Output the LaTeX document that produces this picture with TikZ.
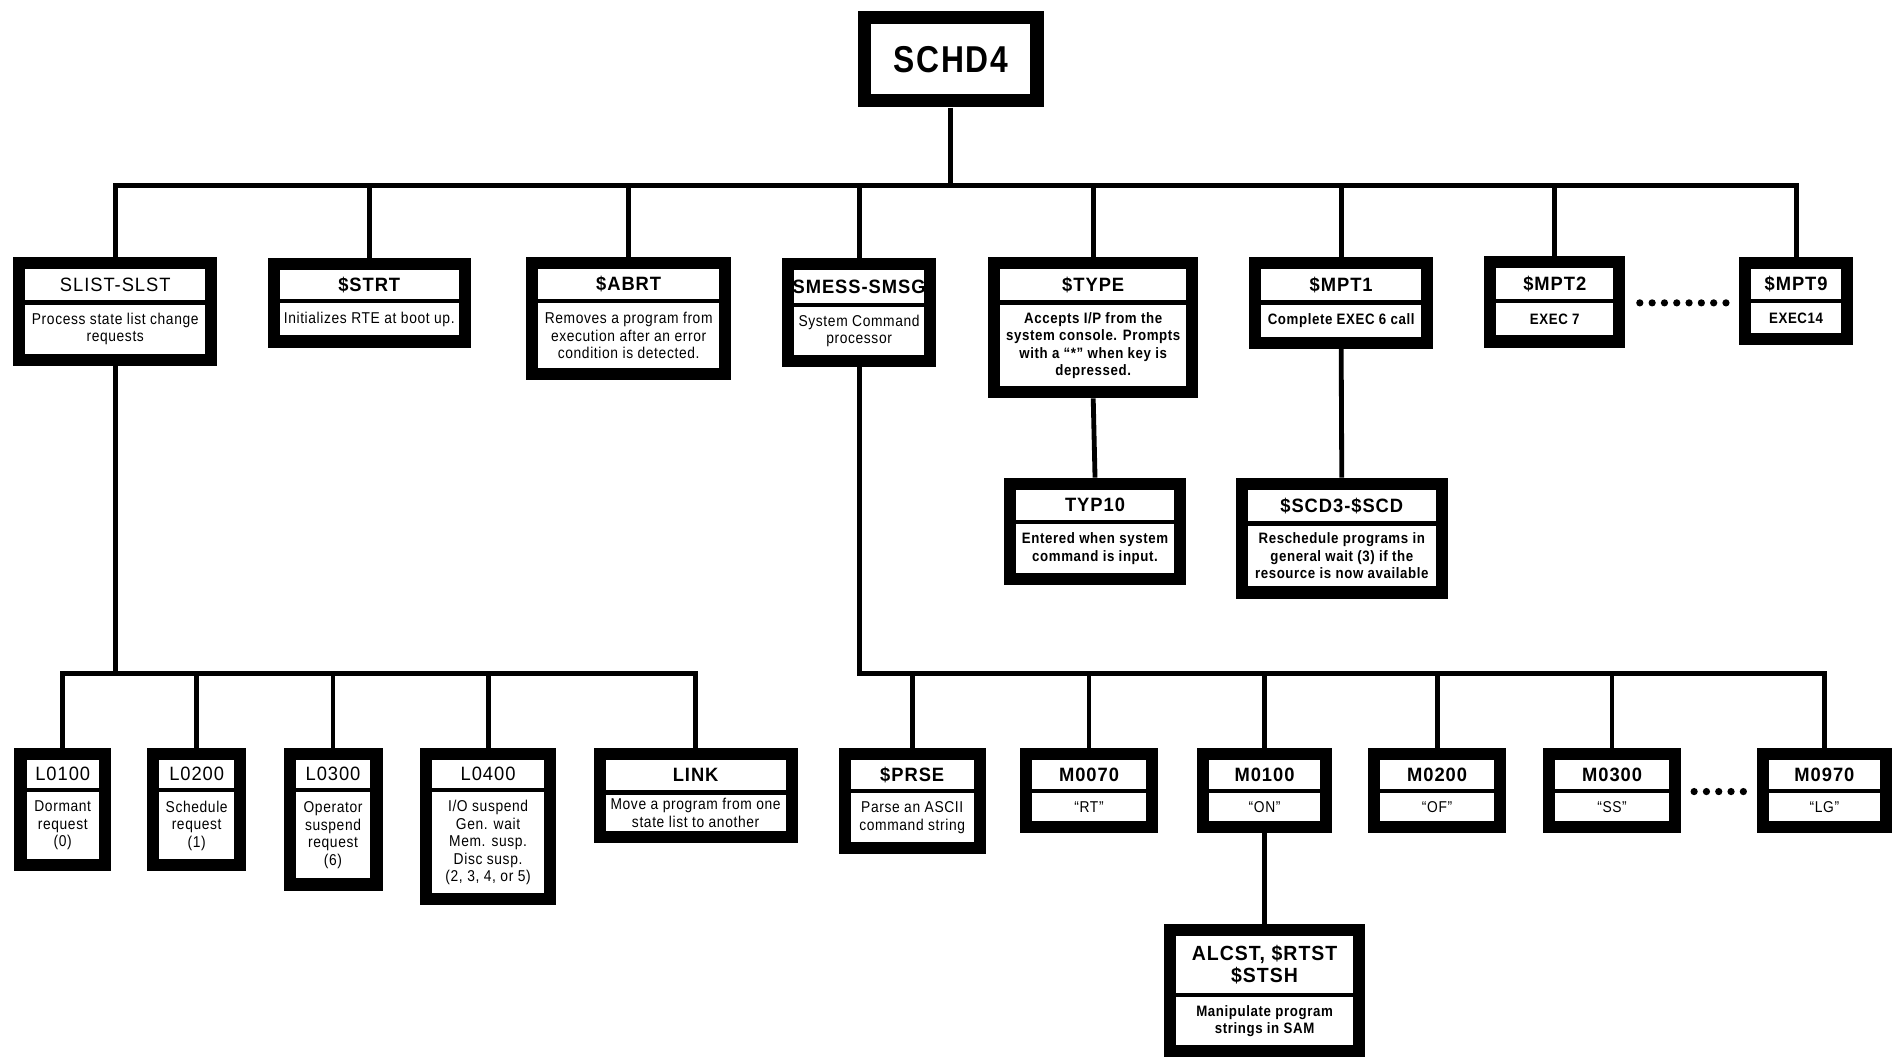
\documentclass[tikz,border=0pt]{standalone}
\usepackage{fontspec}
\usetikzlibrary{fit}
\newfontfamily\rootfont{Liberation Sans}[FakeStretch=0.85,LetterSpace=4]
\newfontfamily\ttlfont{Liberation Sans}[FakeStretch=0.95,LetterSpace=5]
\newfontfamily\dscfont{Liberation Sans}[FakeStretch=0.88,LetterSpace=4]

% frame width of a module box and gap between its title and description panels
\newcommand\bw{10}
\newcommand\gp{3.5}

\tikzset{
  tweight/.store in=\tw, tweight=\bfseries,
  dweight/.store in=\dw, dweight=\mdseries,
  tsize/.store in=\ts, tsize=16,
  dsize/.store in=\ds, dsize=13,
  bd/.style={dweight=\bfseries, dsize=12.5},
  boxframe/.style={fill=black, draw=none, inner sep=0pt},
  whitebox/.style={fill=white, draw=none, inner sep=0pt},
  titletext/.style={font=\ttlfont\tw\fontsize{\ts}{\ts}\selectfont, align=center, inner sep=0pt},
  desctext/.style={font=\dscfont\dw\fontsize{\ds}{14.5}\selectfont, align=center, inner sep=0pt},
  conn/.style={line width=4pt},
  dot/.style={fill=black},
}

% #1 name, #2 left, #3 top, #4 right, #5 bottom, #6 bottom of title panel,
% #7 options, #8 title, #9 description
\newcommand\modbox[9]{%
  \begin{scope}[#7]
  \node[boxframe, fit={(#2,#3) (#4,#5)}] (#1) {};
  \node[whitebox, fit={({#2+\bw},{#3+\bw}) ({#4-\bw},#6)}] (#1-t) {};
  \node[whitebox, fit={({#2+\bw},{#6+\gp}) ({#4-\bw},{#5-\bw})}] (#1-d) {};
  \node[titletext] at (#1-t) {#8};
  \node[desctext] at (#1-d) {#9};
  \end{scope}
}

\begin{document}
\begin{tikzpicture}[x=1pt,y=-1pt]
\useasboundingbox[fill=white] (0,0) rectangle (1568,879);

% root
\node[boxframe, fit={(711,9) (865,89)}] (schd) {};
\node[whitebox, fit={(722,20) (854,78)}] (schd-w) {};
\node[font=\rootfont\bfseries\fontsize{31}{31}\selectfont, inner sep=0pt] at (schd-w) {SCHD4};

% second level
\modbox{slist}{11}{213}{180}{303}{249}{tweight=\mdseries}{SLIST-SLST}{Process state list change\\requests}
\modbox{sstrt}{222}{214}{390}{288}{248}{}{\$STRT}{Initializes RTE at boot up.}
\modbox{sabrt}{436}{213}{606}{315}{248}{}{\$ABRT}{Removes a program from\\execution after an error\\condition is detected.}
\modbox{smess}{648}{214}{776}{304}{251}{}{SMESS-SMSG}{System Command\\processor}
\modbox{stype}{819}{213}{993}{330}{249}{bd}{\$TYPE}{Accepts I/P from the\\system console. Prompts\\with a “*” when key is\\depressed.}
\modbox{smpt1}{1035}{213}{1188}{289}{249}{bd}{\$MPT1}{Complete EXEC 6 call}
\modbox{smpt2}{1230}{212}{1347}{288}{248}{bd}{\$MPT2}{EXEC 7}
\modbox{smpt9}{1441}{213}{1536}{286}{248}{bd}{\$MPT9}{EXEC14}

% third level under $TYPE and $MPT1
\modbox{typ10}{832}{396}{983}{485}{431}{bd}{TYP10}{Entered when system\\command is input.}
\modbox{sscd}{1024}{396}{1200}{496}{432}{bd}{\$SCD3-\$SCD}{Reschedule programs in\\general wait (3) if the\\resource is now available}

% state list routines
\modbox{l100}{12}{620}{92}{722}{653}{tweight=\mdseries}{L0100}{Dormant\\request\\(0)}
\modbox{l200}{122}{620}{204}{722}{653}{tweight=\mdseries}{L0200}{Schedule\\request\\(1)}
\modbox{l300}{235}{620}{317}{738}{653}{tweight=\mdseries}{L0300}{Operator\\suspend\\request\\(6)}
\modbox{l400}{348}{620}{461}{750}{653}{tweight=\mdseries}{L0400}{I/O suspend\\Gen. wait\\Mem. susp.\\Disc susp.\\(2, 3, 4, or 5)}
\modbox{link}{492}{620}{661}{699}{655}{}{LINK}{Move a program from one\\state list to another}

% system command routines
\modbox{prse}{695}{620}{817}{708}{654}{}{\$PRSE}{Parse an ASCII\\command string}
\modbox{m070}{845}{620}{960}{690}{654}{}{M0070}{“RT”}
\modbox{m100}{992}{620}{1104}{690}{654}{}{M0100}{“ON”}
\modbox{m200}{1134}{620}{1248}{690}{654}{}{M0200}{“OF”}
\modbox{m300}{1279}{620}{1393}{690}{654}{}{M0300}{“SS”}
\modbox{m970}{1456}{620}{1568}{690}{654}{}{M0970}{“LG”}
\modbox{alcst}{965}{766}{1131}{876}{823}{bd,tsize=17}{ALCST, \$RTST\\[1pt]\$STSH}{Manipulate program\\strings in SAM}

% connectors
\coordinate (bus) at (788,154);
\draw[conn] (schd.south) -- (bus);
\draw[conn] (slist.north) |- (bus) -| (smpt9.north);
\foreach \n in {sstrt,sabrt,smess,stype,smpt1,smpt2}
  \draw[conn] (\n.north) -- (\n.north |- bus);

\draw[conn] (stype.south) -- (typ10.north);
\draw[conn] (smpt1.south) -- (sscd.north);

\coordinate (lbus) at (95,558);
\draw[conn] (slist.south) -- (slist.south |- lbus);
\draw[conn] (l100.north) |- (lbus) -| (link.north);
\foreach \n in {l200,l300,l400}
  \draw[conn] (\n.north) -- (\n.north |- lbus);

\coordinate (mbus) at (712,558);
\draw[conn] (smess.south) -- (mbus) -| (m970.north);
\foreach \n in {prse,m070,m100,m200,m300}
  \draw[conn] (\n.north) -- (\n.north |- mbus);
\draw[conn] (m100.south) -- (alcst.north);

% ellipses between elided siblings
\foreach \i in {0,...,7}
  \fill[dot] ({1359+\i*10.2},251) circle (3);
\foreach \i in {0,...,4}
  \fill[dot] ({1404+\i*10.2},656) circle (3);
\end{tikzpicture}
\end{document}
